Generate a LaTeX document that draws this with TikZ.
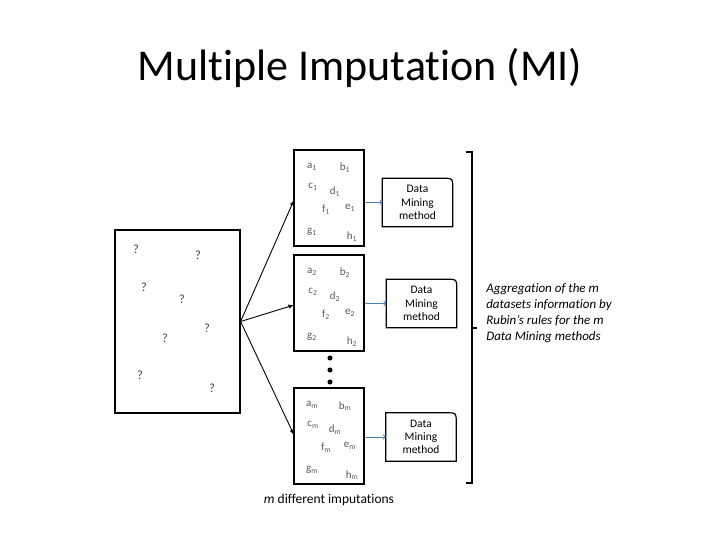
\documentclass[tikz,border=0pt]{standalone}
\usepackage{fontspec}
\setmainfont{Carlito}[Ligatures=NoCommon]
\usepackage{tikz}
\colorlet{lettergray}{black!65}
\definecolor{arrowblue}{HTML}{4A7EBB}

\begin{document}
\begin{tikzpicture}[x=1pt,y=-1pt]
		\tikzstyle{every edge}=[draw,line width=0.9pt]
		\tikzstyle{setbox}=[draw,line width=1.2pt,minimum width=70pt,minimum height=96pt,inner sep=0pt]
		\tikzstyle{dmtext}=[align=center,font=\fontsize{11.5}{13.3}\selectfont,minimum width=70pt,minimum height=48pt,inner sep=0pt]
		\tikzstyle{qmark}=[font=\fontsize{12.5}{14}\selectfont,text=black!75]
		\useasboundingbox (0,0) rectangle (720,540);

		\node (title) at (360,68) {\fontsize{44}{50}\selectfont Multiple Imputation (MI)};

		% incomplete data set
		\node (data) at (177.5,321.5) [draw,line width=1.2pt,minimum width=125pt,minimum height=183pt,inner sep=0pt] {};
		\node[qmark] (q1) at (136,249) {?};
		\node[qmark] (q2) at (198,255) {?};
		\node[qmark] (q3) at (144,287) {?};
		\node[qmark] (q4) at (182,299) {?};
		\node[qmark] (q5) at (207,328) {?};
		\node[qmark] (q6) at (165,338) {?};
		\node[qmark] (q7) at (140,375) {?};
		\node[qmark] (q8) at (212,388) {?};

		% imputed data sets
		\node[setbox] (imp1) at (329,198) {};
		\node[setbox] (imp2) at (329,303) {};
		\node[setbox] (imp3) at (329,436) {};
		\foreach \b/\s/\t in {imp1/1/150, imp2/2/255, imp3/m/388} {
			\foreach \l/\dx/\dy in {a/18/17, b/51/18, c/19/37, d/41/42, e/56/58, f/32/60, g/18/82, h/58/87}
				\node[font=\fontsize{11}{12}\selectfont,text=lettergray,inner sep=0pt] (\l\s) at (294+\dx,\t+\dy) {\l\textsubscript{\s}};
		}
		\node[circle,fill,inner sep=1.8pt] (dot1) at (330,358) {};
		\node[circle,fill,inner sep=1.8pt] (dot2) at (330,370) {};
		\node[circle,fill,inner sep=1.8pt] (dot3) at (330,382) {};

		\coordinate (in1) at (294,200);
		\coordinate (in2) at (294,305);
		\coordinate (in3) at (294,435);
		\path [-latex] (data.east) edge (in1);
		\path [-latex] (data.east) edge (in2);
		\path [-latex] (data.east) edge (in3);

		% data mining methods
		\node[dmtext] (dm1) at (417.5,202.5) {Data\\Mining\\method};
		\node[dmtext] (dm2) at (421.5,303.5) {Data\\Mining\\method};
		\node[dmtext] (dm3) at (421,437) {Data\\Mining\\method};
		\draw[line width=1.2pt] (dm1.south west) |- ([xshift=-9pt]dm1.north east) .. controls (dm1.north east) .. ([yshift=-9pt]dm1.north east) -- (dm1.south east) -- cycle;
		\draw[line width=1.2pt] (dm2.south west) |- ([xshift=-9pt]dm2.north east) .. controls (dm2.north east) .. ([yshift=-9pt]dm2.north east) -- (dm2.south east) -- cycle;
		\draw[line width=1.2pt] (dm3.south west) |- ([xshift=-9pt]dm3.north east) .. controls (dm3.north east) .. ([yshift=-9pt]dm3.north east) -- (dm3.south east) -- cycle;
		\path [->,color=arrowblue] (imp1.east |- dm1) edge (dm1.west);
		\path [->,color=arrowblue] (imp2.east |- dm2) edge (dm2.west);
		\path [->,color=arrowblue] (imp3.east |- dm3) edge (dm3.west);

		% aggregation
		\coordinate (brtop) at (472,152);
		\coordinate (brbot) at (472,483);
		\coordinate (brmid) at (472,328);
		\draw[line width=1.2pt] ([xshift=-6pt]brtop) -- (brtop) -- (brbot) -- ([xshift=-6pt]brbot);
		\draw[line width=1.2pt] (brmid) -- ([xshift=5pt]brmid);
		\node (agg) at (549,313) [align=left,font=\fontsize{13}{16}\selectfont\itshape] {Aggregation of the m\\datasets information by\\Rubin's rules for the m\\Data Mining methods};

		\node (caption) at (329,500) [font=\fontsize{13.5}{15}\selectfont] {\textit{m} different imputations};
	\end{tikzpicture}
\end{document}
